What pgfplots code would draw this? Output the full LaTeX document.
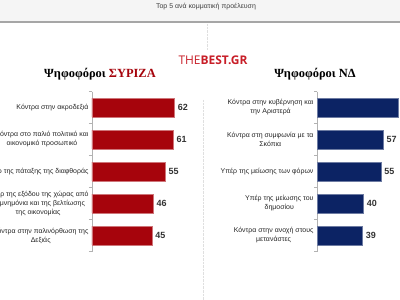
\documentclass[border=0pt]{standalone}
\usepackage{fontspec}
\setmainfont{Liberation Serif}
\newfontfamily\arial{Liberation Sans}
\newfontfamily\osans{Open Sans}
\usepackage{pgfplots}
\pgfplotsset{compat=1.18}
\definecolor{syr}{RGB}{166,4,12}
\definecolor{nd}{RGB}{12,35,100}
\definecolor{logo}{RGB}{200,30,40}
\pgfplotsset{mybar/.style={xbar, scale only axis, y dir=reverse,
  ymin=0.5, ymax=5.5, xmin=0, xmax=80, height=160bp, bar width=19bp,
  hide x axis, axis y line*=left, y axis line style={gray!60},
  ytick={1,...,5}, major tick length=0pt,
  minor ytick={0.5,1.5,2.5,3.5,4.5,5.5}, minor tick length=3bp,
  tick align=outside, tick style={gray!60},
  yticklabel style={font=\arial\fontsize{7}{9}\selectfont, align=center, text=black!85},
  nodes near coords,
  nodes near coords style={font=\arial\fontsize{9}{10}\selectfont\bfseries, text=black!80},
  /pgf/number format/assume math mode=true,
  clip=false}}
\begin{document}
\begin{tikzpicture}[x=1bp,y=1bp]
\path[use as bounding box, clip] (0,0) rectangle (400,300);
\fill[white] (0,0) rectangle (400,300);
\fill[gray!8] (0,279) rectangle (400,300);
\draw[gray!70, line width=2bp] (0,278) -- (400,278);
\node[font=\arial\fontsize{7}{8}\selectfont, text=black!75] at (206,293) {Top 5 ανά κομματική προέλευση};
\draw[gray!25, densely dotted] (207,276) -- (207,250);
\draw[gray!25, densely dotted] (203,200) -- (203,0);
\node[font=\osans\fontsize{12}{14}\selectfont\bfseries, text=logo, anchor=base] at (213,236) {{\mdseries THE}BEST.GR};
\node[font=\fontsize{12.5}{15}\selectfont\bfseries, anchor=base] at (100,223) {Ψηφοφόροι \textcolor{syr}{ΣΥΡΙΖΑ}};
\node[font=\fontsize{12.5}{15}\selectfont\bfseries, anchor=base] at (315,223) {Ψηφοφόροι ΝΔ};
\begin{axis}[mybar, at={(92bp,48.5bp)}, anchor=south west, width=106.4bp,
  yticklabels={{Κόντρα στην ακροδεξιά},
    {Κόντρα στο παλιό πολιτικό και\\οικονομικό προσωπικό},
    {Υπέρ της πάταξης της διαφθοράς},
    {Υπέρ της εξόδου της χώρας από\\τα μνημόνια και της βελτίωσης\\της οικονομίας},
    {Κόντρα στην παλινόρθωση της\\Δεξιάς}}]
\addplot[fill=syr, draw=syr!55!white] coordinates {(62,1) (61,2) (55,3) (46,4) (45,5)};
\end{axis}
\begin{axis}[mybar, at={(317bp,48.5bp)}, anchor=south west, width=92.8bp,
  yticklabels={{Κόντρα στην κυβέρνηση και\\την Αριστερά},
    {Κόντρα στη συμφωνία με τα\\Σκόπια},
    {Υπέρ της μείωσης των φόρων},
    {Υπέρ της μείωσης του\\δημοσίου},
    {Κόντρα στην ανοχή στους\\μετανάστες}}]
\addplot[fill=nd, draw=nd!60!white] coordinates {(70,1) (57,2) (55,3) (40,4) (39,5)};
\end{axis}
\end{tikzpicture}
\end{document}
